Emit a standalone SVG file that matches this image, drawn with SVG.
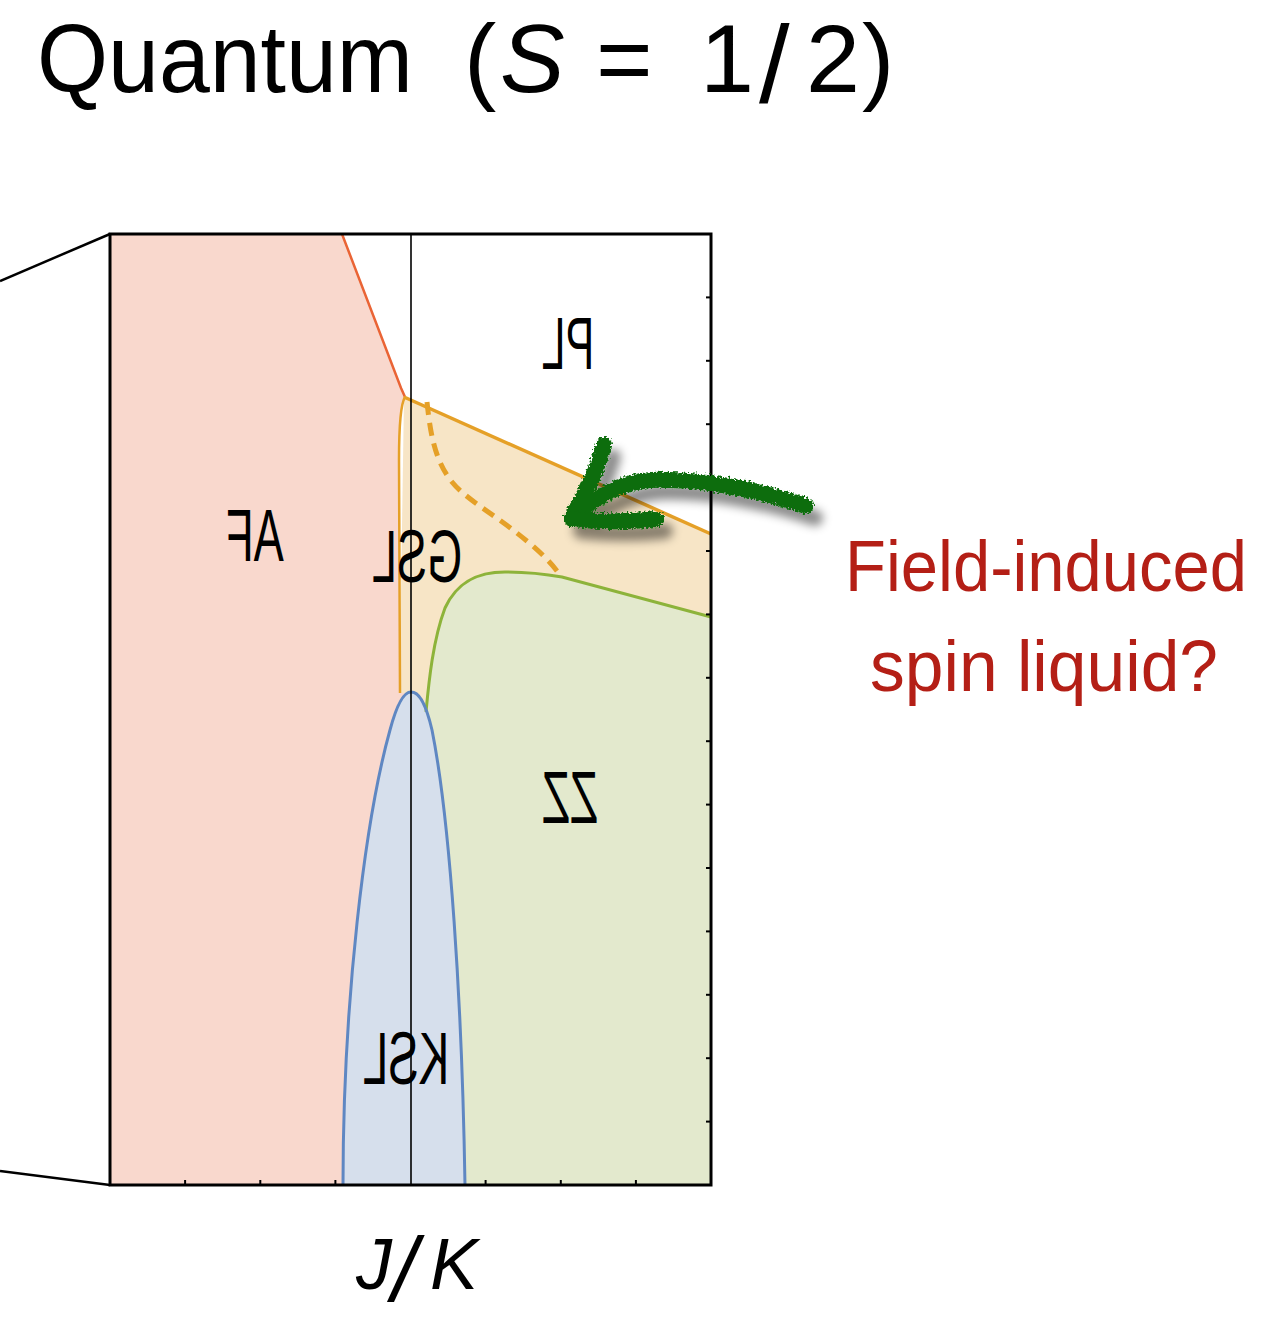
<svg xmlns="http://www.w3.org/2000/svg" width="1281" height="1318" viewBox="0 0 1281 1318">
<style>
.lbl{font-family:"Liberation Sans",Arial,sans-serif;font-size:74px;fill:#000;text-anchor:middle}
.title{font-family:"Liberation Sans",Arial,sans-serif;font-size:97px;fill:#000}
.red{font-family:"Liberation Sans",Arial,sans-serif;font-size:72px;fill:#b41f16;text-anchor:middle}
.tick{stroke:#000;stroke-width:2}
</style>
<defs>
<filter id="chalk" x="-10%" y="-30%" width="130%" height="190%">
<feTurbulence type="fractalNoise" baseFrequency="0.45" numOctaves="2" seed="3" result="n"/>
<feDisplacementMap in="SourceGraphic" in2="n" scale="7" xChannelSelector="R" yChannelSelector="G" result="d"/>
<feGaussianBlur in="SourceAlpha" stdDeviation="5" result="b"/>
<feOffset in="b" dx="9" dy="12" result="o"/>
<feFlood flood-color="#000" flood-opacity="0.45"/>
<feComposite in2="o" operator="in" result="s"/>
<feMerge><feMergeNode in="s"/><feMergeNode in="d"/></feMerge>
</filter>
</defs>
<rect width="1281" height="1318" fill="#fff"/>

<g id="title">
<text class="title" y="92"><tspan x="37" textLength="376" lengthAdjust="spacingAndGlyphs">Quantum</tspan><tspan x="464">(</tspan><tspan x="500" font-style="italic">S</tspan><tspan x="596">=</tspan><tspan x="700">1</tspan><tspan x="759" dy="10" style="font-size:110px">/</tspan><tspan x="806" dy="-10">2</tspan><tspan x="862">)</tspan></text>
</g>

<g id="regions">
<rect x="110" y="234" width="601" height="951" fill="#fff"/>
<path id="gsl-fill" d="M404,397 L711,534 L711,720 L399,720 Z" fill="#f7e5c6"/>
<path id="zz-fill" d="M426,712 C429,680 433,640 445,608 C458,580 480,572 505,572 C525,572 545,574 562,577 L711,617 L711,1185 L411,1185 L411,712 Z" fill="#e3e9cd"/>
<path id="af-fill" d="M110,234 L342,234 L401,388 L405,397 C400,405 399,430 399,460 L400,693 L411,693 L411,1185 L110,1185 Z" fill="#f9d8cd"/>
<path id="ksl-fill" d="M343,1185 C343,1000 365,820 390,730 C398,700 405,692 411,692 C418,692 425,700 432,730 C450,820 462,1000 465,1185 Z" fill="#d6dfec"/>
</g>

<g id="connectors" fill="none">
<path d="M342,234 L401,388 L405,397" stroke="#ea6435" stroke-width="2.5"/>
<path d="M404,397 L711,534" stroke="#e5a027" stroke-width="3.5"/>
<path d="M405,397 C400,405 399,430 399,460 L400,693" stroke="#e5a027" stroke-width="2.5"/>
<path d="M427,402 C430,430 434,460 452,482 C465,498 490,512 513,530 C530,543 548,558 560,575" stroke="#e5a027" stroke-width="5" stroke-dasharray="13,8"/>
<path d="M426,712 C429,680 433,640 445,608 C458,580 480,572 505,572 C525,572 545,574 562,577 L711,617" stroke="#8db33a" stroke-width="3"/>
<path d="M343,1185 C343,1000 365,820 390,730 C398,700 405,692 411,692 C418,692 425,700 432,730 C450,820 462,1000 465,1185" stroke="#5f87c2" stroke-width="3"/>
<line x1="411" y1="234" x2="411" y2="1185" stroke="#000" stroke-width="1.6"/>
<line x1="0" y1="281" x2="110" y2="234" stroke="#000" stroke-width="2.5"/>
<line x1="0" y1="1171" x2="110" y2="1185" stroke="#000" stroke-width="2.5"/>
</g>

<g id="frame">
<rect x="110" y="234" width="601" height="951" fill="none" stroke="#000" stroke-width="3"/>
<g class="tick">
<line x1="185.1" y1="1185" x2="185.1" y2="1180"/>
<line x1="260.3" y1="1185" x2="260.3" y2="1180"/>
<line x1="335.4" y1="1185" x2="335.4" y2="1180"/>
<line x1="485.6" y1="1185" x2="485.6" y2="1180"/>
<line x1="560.8" y1="1185" x2="560.8" y2="1180"/>
<line x1="635.9" y1="1185" x2="635.9" y2="1180"/>
<line x1="711" y1="297.4" x2="706" y2="297.4"/>
<line x1="711" y1="360.8" x2="706" y2="360.8"/>
<line x1="711" y1="424.2" x2="706" y2="424.2"/>
<line x1="711" y1="487.6" x2="706" y2="487.6"/>
<line x1="711" y1="551" x2="706" y2="551"/>
<line x1="711" y1="614.4" x2="706" y2="614.4"/>
<line x1="711" y1="677.8" x2="706" y2="677.8"/>
<line x1="711" y1="741.2" x2="706" y2="741.2"/>
<line x1="711" y1="804.6" x2="706" y2="804.6"/>
<line x1="711" y1="868" x2="706" y2="868"/>
<line x1="711" y1="931.4" x2="706" y2="931.4"/>
<line x1="711" y1="994.8" x2="706" y2="994.8"/>
<line x1="711" y1="1058.2" x2="706" y2="1058.2"/>
<line x1="711" y1="1121.6" x2="706" y2="1121.6"/>
</g>
</g>

<g id="node-af"><text class="lbl" transform="translate(255,561) scale(-0.61,1)">AF</text></g>
<g id="node-gsl"><text class="lbl" transform="translate(417,582) scale(-0.61,1)">GSL</text></g>
<g id="node-pl"><text class="lbl" transform="translate(568,369) scale(-0.58,1)">PL</text></g>
<g id="node-zz"><text class="lbl" transform="translate(570,823) scale(-0.62,1)">ZZ</text></g>
<g id="node-ksl"><text class="lbl" transform="translate(406,1084) scale(-0.62,1)">KSL</text></g>

<g id="arrow" filter="url(#chalk)" fill="none" stroke="#0b6d0b" stroke-width="16" stroke-linecap="round" stroke-linejoin="round">
<path d="M806,506 C760,490 700,478 650,480 C620,482 595,498 572,518"/>
<path d="M604,445 C597,470 585,495 572,517"/>
<path d="M572,519 C600,522 630,522 656,519"/>
</g>

<g id="note">
<text class="red" x="1046" y="591" textLength="402" lengthAdjust="spacingAndGlyphs">Field-induced</text>
<text class="red" x="1044" y="691" textLength="348" lengthAdjust="spacingAndGlyphs">spin liquid?</text>
</g>

<g id="axis-label">
<text class="title" style="font-size:72px;font-style:italic" y="1289"><tspan x="356">J</tspan><tspan x="392" dy="12" style="font-size:90px">/</tspan><tspan x="430" dy="-12">K</tspan></text>
</g>
</svg>
